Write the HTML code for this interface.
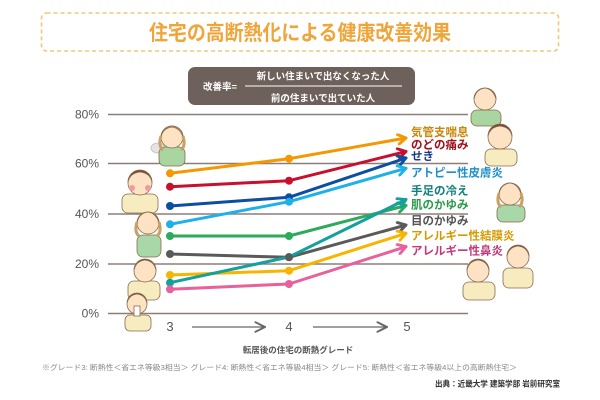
<!DOCTYPE html>
<html><head><meta charset="utf-8"><style>
html,body{margin:0;padding:0;background:#fff;}
svg{display:block;}
text{font-family:"Liberation Sans","Noto Sans CJK JP",sans-serif;}
</style></head><body>
<svg width="600" height="400" viewBox="0 0 600 400" xmlns="http://www.w3.org/2000/svg">
<defs>
<marker id="a1" viewBox="0 0 10 10" refX="8.5" refY="5" markerUnits="userSpaceOnUse" markerWidth="12" markerHeight="12" orient="auto"><path d="M2,1 L8.5,5 L2,9" fill="none" stroke="#f39800" stroke-width="2.4" stroke-linecap="round" stroke-linejoin="round"/></marker>
<marker id="a2" viewBox="0 0 10 10" refX="8.5" refY="5" markerUnits="userSpaceOnUse" markerWidth="12" markerHeight="12" orient="auto"><path d="M2,1 L8.5,5 L2,9" fill="none" stroke="#c8102e" stroke-width="2.4" stroke-linecap="round" stroke-linejoin="round"/></marker>
<marker id="a3" viewBox="0 0 10 10" refX="8.5" refY="5" markerUnits="userSpaceOnUse" markerWidth="12" markerHeight="12" orient="auto"><path d="M2,1 L8.5,5 L2,9" fill="none" stroke="#0b4ea2" stroke-width="2.4" stroke-linecap="round" stroke-linejoin="round"/></marker>
<marker id="a4" viewBox="0 0 10 10" refX="8.5" refY="5" markerUnits="userSpaceOnUse" markerWidth="12" markerHeight="12" orient="auto"><path d="M2,1 L8.5,5 L2,9" fill="none" stroke="#1eb0e8" stroke-width="2.4" stroke-linecap="round" stroke-linejoin="round"/></marker>
<marker id="a5" viewBox="0 0 10 10" refX="8.5" refY="5" markerUnits="userSpaceOnUse" markerWidth="12" markerHeight="12" orient="auto"><path d="M2,1 L8.5,5 L2,9" fill="none" stroke="#2eaa5c" stroke-width="2.4" stroke-linecap="round" stroke-linejoin="round"/></marker>
<marker id="a6" viewBox="0 0 10 10" refX="8.5" refY="5" markerUnits="userSpaceOnUse" markerWidth="12" markerHeight="12" orient="auto"><path d="M2,1 L8.5,5 L2,9" fill="none" stroke="#5a5a5a" stroke-width="2.4" stroke-linecap="round" stroke-linejoin="round"/></marker>
<marker id="a7" viewBox="0 0 10 10" refX="8.5" refY="5" markerUnits="userSpaceOnUse" markerWidth="12" markerHeight="12" orient="auto"><path d="M2,1 L8.5,5 L2,9" fill="none" stroke="#f8b500" stroke-width="2.4" stroke-linecap="round" stroke-linejoin="round"/></marker>
<marker id="a8" viewBox="0 0 10 10" refX="8.5" refY="5" markerUnits="userSpaceOnUse" markerWidth="12" markerHeight="12" orient="auto"><path d="M2,1 L8.5,5 L2,9" fill="none" stroke="#14a09c" stroke-width="2.4" stroke-linecap="round" stroke-linejoin="round"/></marker>
<marker id="a9" viewBox="0 0 10 10" refX="8.5" refY="5" markerUnits="userSpaceOnUse" markerWidth="12" markerHeight="12" orient="auto"><path d="M2,1 L8.5,5 L2,9" fill="none" stroke="#e8609c" stroke-width="2.4" stroke-linecap="round" stroke-linejoin="round"/></marker>
<marker id="ax" viewBox="0 0 10 10" refX="9" refY="5" markerUnits="userSpaceOnUse" markerWidth="12" markerHeight="12" orient="auto"><path d="M1,1 L9,5 L1,9" fill="none" stroke="#666" stroke-width="1.6" stroke-linecap="round"/></marker>
</defs>

<!-- title box -->
<rect x="41.5" y="13" width="517" height="38" rx="5" fill="none" stroke="#f0c878" stroke-width="1.6" stroke-dasharray="4,3"/>
<text x="300" y="40" text-anchor="middle" font-size="21" font-weight="bold" fill="#f0a53a" textLength="302" lengthAdjust="spacingAndGlyphs">住宅の高断熱化による健康改善効果</text>

<!-- formula box -->
<rect x="188" y="67" width="227" height="38" rx="7" fill="#6e605b"/>
<text x="203" y="90" font-size="9.5" font-weight="bold" fill="#fff">改善率=</text>
<line x1="245" y1="86" x2="402" y2="86" stroke="#fff" stroke-width="0.9"/>
<text x="323" y="79.5" text-anchor="middle" font-size="9.5" font-weight="bold" fill="#fff">新しい住まいで出なくなった人</text>
<text x="323" y="101.5" text-anchor="middle" font-size="9.5" font-weight="bold" fill="#fff">前の住まいで出ていた人</text>

<!-- gridlines -->
<g stroke="#8c7f7a" stroke-width="1.5">
<line x1="108" y1="114.5" x2="468" y2="114.5"/>
<line x1="108" y1="163.5" x2="468" y2="163.5"/>
<line x1="108" y1="214" x2="468" y2="214"/>
<line x1="108" y1="264" x2="468" y2="264"/>
<line x1="108" y1="313.5" x2="468" y2="313.5"/>
</g>
<g font-size="12" fill="#555" text-anchor="end">
<text x="99" y="118.5">80%</text>
<text x="99" y="167.5">60%</text>
<text x="99" y="218">40%</text>
<text x="99" y="268">20%</text>
<text x="99" y="317.5">0%</text>
</g>

<!-- illustrations (simplified) -->
<g stroke="#8a6a50" stroke-width="0.8">
<ellipse cx="158" cy="148" rx="7" ry="5" fill="#e4e4e4" stroke="#bbb"/>
<rect x="159" y="147" width="26" height="19" rx="6" fill="#a8d5a0"/>
<circle cx="172" cy="137" r="11" fill="#fde2c4"/>
<path d="M161,137 A11,11 0 0 1 183,137 Q180,128 172,127 Q163,128 161,137 Z" fill="#c8a165"/>
<path d="M161,136 Q158,146 163,150 M183,136 Q186,146 181,150" fill="none" stroke="#c8a165" stroke-width="3"/>
<rect x="122" y="194" width="36" height="19" rx="6" fill="#f7ecc0"/>
<circle cx="140" cy="183" r="12" fill="#fde2c4"/>
<path d="M128,182 A12,12 0 0 1 152,182 Q150,173 140,172 Q130,173 128,182 Z" fill="#7a4a2a"/>
<circle cx="132" cy="188" r="3" fill="#f29a9a" stroke="none"/>
<circle cx="148" cy="188" r="3" fill="#f29a9a" stroke="none"/>
<rect x="137" y="235" width="24" height="22" rx="6" fill="#a8d8a8"/>
<circle cx="148" cy="223" r="11" fill="#fde2c4"/>
<path d="M137,223 A11,11 0 0 1 159,223 Q156,213 148,212 Q139,213 137,223 Z" fill="#c8a165"/>
<path d="M137,222 Q134,232 139,236 M159,222 Q162,232 157,236" fill="none" stroke="#c8a165" stroke-width="3"/>
<rect x="128" y="281" width="32" height="19" rx="6" fill="#f7ecc0"/>
<circle cx="145" cy="271" r="11" fill="#fde2c4"/>
<path d="M134,270 A11,11 0 0 1 156,270 Q154,261 145,260 Q136,261 134,270 Z" fill="#7a4a2a"/>
<rect x="125" y="315" width="26" height="16" rx="5" fill="#f7ecc0"/>
<circle cx="137" cy="304" r="10" fill="#fde2c4"/>
<path d="M127,303 A10,10 0 0 1 147,303 Q145,295 137,294 Q129,295 127,303 Z" fill="#7a4a2a"/>
<rect x="134" y="306" width="6" height="10" fill="#fff"/>
<rect x="471" y="110" width="30" height="16" rx="6" fill="#a8d5a0"/>
<circle cx="485" cy="99" r="11" fill="#fde2c4"/>
<path d="M474,99 A11,11 0 0 1 496,99 Q493,89 485,88 Q476,89 474,99 Z" fill="#c8a165"/>
<rect x="485" y="149" width="32" height="17" rx="6" fill="#f7ecc0"/>
<circle cx="500" cy="137" r="12" fill="#fde2c4"/>
<path d="M488,136 A12,12 0 0 1 512,136 Q510,127 500,126 Q490,127 488,136 Z" fill="#7a4a2a"/>
<rect x="497" y="205" width="28" height="17" rx="6" fill="#a8d8a8"/>
<circle cx="510" cy="194" r="11" fill="#fde2c4"/>
<path d="M499,194 A11,11 0 0 1 521,194 Q518,184 510,183 Q501,184 499,194 Z" fill="#c8a165"/>
<path d="M499,193 Q496,203 501,207 M521,193 Q524,203 519,207" fill="none" stroke="#c8a165" stroke-width="3"/>
<rect x="503" y="268" width="30" height="20" rx="6" fill="#f7ecc0"/>
<circle cx="518" cy="257" r="11" fill="#fde2c4"/>
<path d="M507,256 A11,11 0 0 1 529,256 Q527,247 518,246 Q509,247 507,256 Z" fill="#7a4a2a"/>
<rect x="463" y="282" width="32" height="18" rx="6" fill="#f7ecc0"/>
<circle cx="478" cy="271" r="11" fill="#fde2c4"/>
<path d="M467,270 A11,11 0 0 1 489,270 Q487,261 478,260 Q469,261 467,270 Z" fill="#7a4a2a"/>
</g>

<!-- series lines -->
<g fill="none" stroke-width="3" stroke-linejoin="round" stroke-linecap="round">
<polyline points="170,173.3 289,158.7 406,138" stroke="#f39800" marker-end="url(#a1)"/>
<polyline points="170,186.7 289,180.7 406,151.5" stroke="#c8102e" marker-end="url(#a2)"/>
<polyline points="170,206 289,197.3 406,158" stroke="#0b4ea2" marker-end="url(#a3)"/>
<polyline points="170,224.3 289,201.7 406,168.3" stroke="#1eb0e8" marker-end="url(#a4)"/>
<polyline points="170,236 289,236 406,205.5" stroke="#2eaa5c" marker-end="url(#a5)"/>
<polyline points="170,254 289,257.3 406,225" stroke="#5a5a5a" marker-end="url(#a6)"/>
<polyline points="170,275 289,270.7 406,233.3" stroke="#f8b500" marker-end="url(#a7)"/>
<polyline points="170,282.7 289,257 406,199.5" stroke="#14a09c" marker-end="url(#a8)"/>
<polyline points="170,289.3 289,284 406,246.7" stroke="#e8609c" marker-end="url(#a9)"/>
</g>
<g>
<circle cx="170" cy="173.3" r="4" fill="#f39800"/><circle cx="289" cy="158.7" r="4" fill="#f39800"/>
<circle cx="170" cy="186.7" r="4" fill="#c8102e"/><circle cx="289" cy="180.7" r="4" fill="#c8102e"/>
<circle cx="170" cy="206" r="4" fill="#0b4ea2"/><circle cx="289" cy="197.3" r="4" fill="#0b4ea2"/>
<circle cx="170" cy="224.3" r="4" fill="#1eb0e8"/><circle cx="289" cy="201.7" r="4" fill="#1eb0e8"/>
<circle cx="170" cy="236" r="4" fill="#2eaa5c"/><circle cx="289" cy="236" r="4" fill="#2eaa5c"/>
<circle cx="170" cy="275" r="4" fill="#f8b500"/><circle cx="289" cy="270.7" r="4" fill="#f8b500"/>
<circle cx="170" cy="282.7" r="4" fill="#14a09c"/><circle cx="289" cy="257" r="4" fill="#14a09c"/>
<circle cx="170" cy="254" r="4" fill="#5a5a5a"/><circle cx="289" cy="257.3" r="4" fill="#5a5a5a"/>
<circle cx="170" cy="289.3" r="4" fill="#e8609c"/><circle cx="289" cy="284" r="4" fill="#e8609c"/>
</g>

<!-- right labels -->
<g font-size="11.5" font-weight="bold">
<text x="411" y="136" fill="#c8860a">気管支喘息</text>
<text x="411" y="148.3" fill="#a0101c">のどの痛み</text>
<text x="411" y="160" fill="#1a3a8a">せき</text>
<text x="411" y="176.3" fill="#1e8fc8">アトピー性皮膚炎</text>
<text x="411" y="194.7" fill="#127e7e">手足の冷え</text>
<text x="411" y="208.3" fill="#2a9a4a">肌のかゆみ</text>
<text x="411" y="224.7" fill="#555">目のかゆみ</text>
<text x="411" y="239.7" fill="#d49a00">アレルギー性結膜炎</text>
<text x="411" y="254.7" fill="#c0387a">アレルギー性鼻炎</text>
</g>

<!-- x axis -->
<g font-size="13" fill="#555" text-anchor="middle">
<text x="170" y="331">3</text>
<text x="289" y="331">4</text>
<text x="407" y="331">5</text>
</g>
<line x1="192" y1="327" x2="265" y2="327" stroke="#666" stroke-width="1.3" marker-end="url(#ax)"/>
<line x1="313" y1="327" x2="387" y2="327" stroke="#666" stroke-width="1.3" marker-end="url(#ax)"/>
<text x="298" y="353" text-anchor="middle" font-size="8.5" font-weight="bold" fill="#555">転居後の住宅の断熱グレード</text>
<text x="42" y="370" font-size="7.5" fill="#888" textLength="475" lengthAdjust="spacingAndGlyphs">※グレード3: 断熱性＜省エネ等級3相当＞ グレード4: 断熱性＜省エネ等級4相当＞ グレード5: 断熱性＜省エネ等級4以上の高断熱住宅＞</text>
<text x="435" y="386.5" font-size="8" font-weight="bold" fill="#333" textLength="125" lengthAdjust="spacingAndGlyphs">出典：近畿大学 建築学部 岩前研究室</text>
</svg>
</body></html>
